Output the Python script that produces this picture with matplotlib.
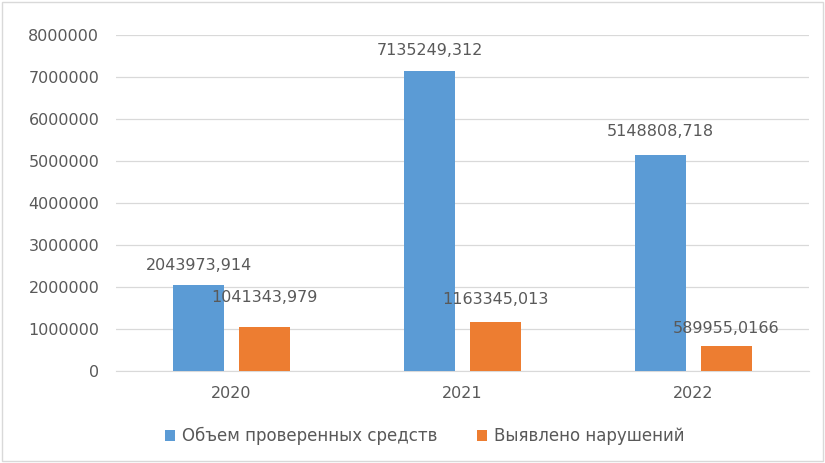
import numpy as np
import matplotlib.pyplot as plt

plt.rcParams['font.family'] = ['DejaVu Sans']

# Data
years = ['2020', '2021', '2022']
checked = [2043973.914, 7135249.312, 5148808.718]
violations = [1041343.979, 1163345.013, 589955.0166]
checked_labels = ['2043973,914', '7135249,312', '5148808,718']
violation_labels = ['1041343,979', '1163345,013', '589955,0166']
series_names = ['Объем проверенных средств', 'Выявлено нарушений']

blue = '#5B9BD5'
orange = '#ED7D31'
text_gray = '#595959'

fig = plt.figure(figsize=(8.25, 4.63), dpi=100)
ax = fig.add_axes([0.1406, 0.199, 0.84, 0.725])

x = np.arange(len(years))
w = 0.22
b1 = ax.bar(x - 0.142, checked, w, color=blue, label=series_names[0], zorder=3)
b2 = ax.bar(x + 0.142, violations, w, color=orange, label=series_names[1], zorder=3)

# Data labels (offsets in pixels above the bar top, as placed in the original)
blue_dy = [20, 21, 23]
orange_dy = [30, 23, 18]
for rect, lab, dy in zip(b1, checked_labels, blue_dy):
    ax.annotate(lab, (rect.get_x() + rect.get_width() / 2, rect.get_height()),
                xytext=(0, dy * 0.72), textcoords='offset points', ha='center', va='center',
                fontsize=11.5, color=text_gray, zorder=4)
for rect, lab, dy in zip(b2, violation_labels, orange_dy):
    ax.annotate(lab, (rect.get_x() + rect.get_width() / 2, rect.get_height()),
                xytext=(0, dy * 0.72), textcoords='offset points', ha='center', va='center',
                fontsize=11.5, color=text_gray, zorder=4)

ax.set_ylim(0, 8000000)
ax.set_yticks(np.arange(0, 8000001, 1000000))
ax.set_yticklabels([str(v) for v in range(0, 8000001, 1000000)])
ax.set_xlim(-0.5, 2.5)
ax.set_xticks(x)
ax.set_xticklabels(years)
ax.tick_params(axis='both', length=0, labelsize=11.5, colors=text_gray)
ax.tick_params(axis='y', pad=12)
ax.tick_params(axis='x', pad=11)
ax.grid(axis='y', color='#D9D9D9', linewidth=0.9, zorder=0)
for s in ['top', 'right', 'left']:
    ax.spines[s].set_visible(False)
ax.spines['bottom'].set_color('#D9D9D9')

fig.legend(handles=[b1, b2], labels=series_names, loc='center',
           bbox_to_anchor=(0.515, 0.058), ncol=2, frameon=False, fontsize=12,
           handlelength=0.6, handleheight=0.6, handletextpad=0.4,
           columnspacing=2.4, labelcolor=text_gray)

# light frame around the chart
fig.patches.append(plt.Rectangle((0.003, 0.005), 0.994, 0.99, transform=fig.transFigure,
                                 fill=False, edgecolor='#D9D9D9', linewidth=1))

fig.savefig('out.png', dpi=100)
